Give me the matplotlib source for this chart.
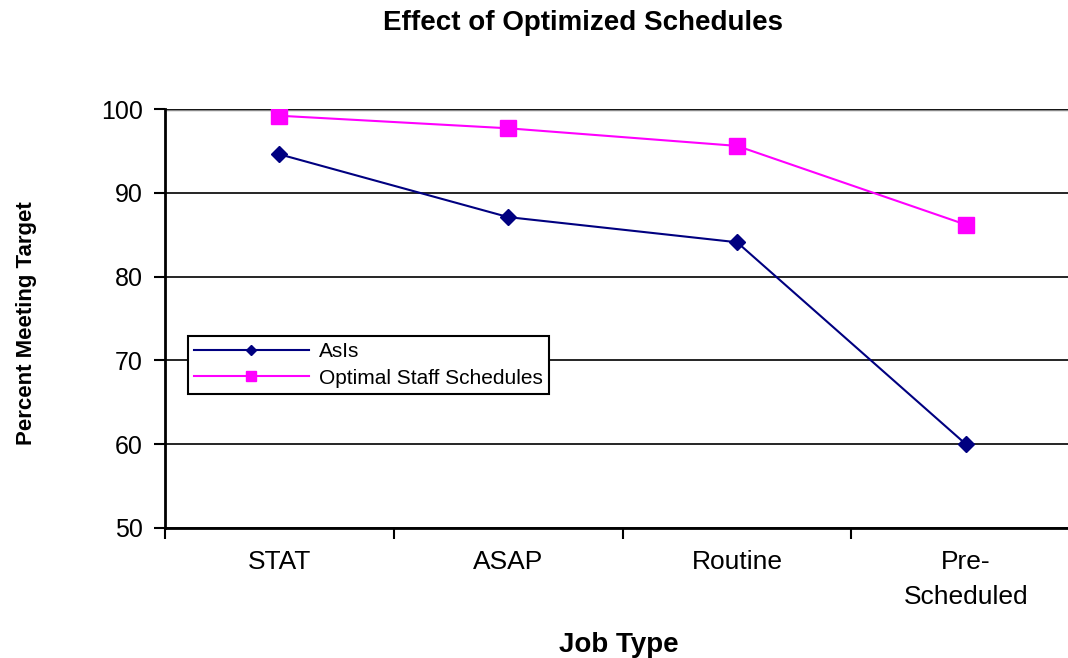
import matplotlib
matplotlib.use("Agg")
import matplotlib.pyplot as plt

categories = ["STAT", "ASAP", "Routine", "Pre-\nScheduled"]
as_is = [94.6, 87.1, 84.1, 60.0]
optimal = [99.2, 97.7, 95.6, 86.2]
y_ticks = [50, 60, 70, 80, 90, 100]

plt.rcParams['font.family'] = ['Liberation Sans', 'DejaVu Sans']

fig = plt.figure(figsize=(10.68, 6.58), dpi=100)
ax = fig.add_axes([0.1545, 0.1976, 0.857, 0.6367])

x = list(range(len(categories)))
ax.plot(x, as_is, color='#000080', marker='D', markersize=8, linewidth=1.5, label='AsIs')
ax.plot(x, optimal, color='#FF00FF', marker='s', markersize=11, linewidth=1.5,
        label='Optimal Staff Schedules')

ax.set_xlim(-0.5, len(categories) - 0.5)
ax.set_ylim(50, 100)
ax.set_yticks(y_ticks)
ax.set_xticks([i + 0.5 for i in range(-1, len(categories) - 1)], minor=False)
ax.set_xticklabels([])
ax.set_xticks(x, minor=True)
ax.set_xticklabels(categories, minor=True, fontsize=19, linespacing=1.55)
ax.tick_params(axis='x', which='minor', length=0, pad=16)
ax.tick_params(axis='x', which='major', length=8, width=1.5, direction='out', color='black')
ax.tick_params(axis='y', length=8, width=1.5, direction='out', labelsize=18, pad=8)

ax.yaxis.grid(True, color='black', linewidth=1.2)
ax.set_axisbelow(True)
for s in ['top', 'right']:
    ax.spines[s].set_visible(False)
ax.spines['left'].set_linewidth(2)
ax.spines['bottom'].set_linewidth(2)
ax.axhline(100, color='#888888', linewidth=2.5, zorder=0.5)

fig.text(0.546, 1 - 23 / 658, "Effect of Optimized Schedules", fontsize=20,
         fontweight='bold', ha='center', va='center')
fig.text(0.579, 1 - 645 / 658, "Job Type", fontsize=20, fontweight='bold',
         ha='center', va='center')
ax.set_ylabel("Percent Meeting Target", fontsize=16, fontweight='bold')
ax.yaxis.set_label_coords(-0.14, 0.49)

leg = ax.legend(loc='upper left', bbox_to_anchor=(0.025, 0.458), fontsize=15,
                frameon=True, fancybox=False, edgecolor='black', framealpha=1,
                handlelength=5.5, borderpad=0.3, labelspacing=0.35, markerscale=0.7,
                handletextpad=0.5, borderaxespad=0)
leg.get_frame().set_linewidth(1.5)

fig.savefig("out.png", dpi=100)
